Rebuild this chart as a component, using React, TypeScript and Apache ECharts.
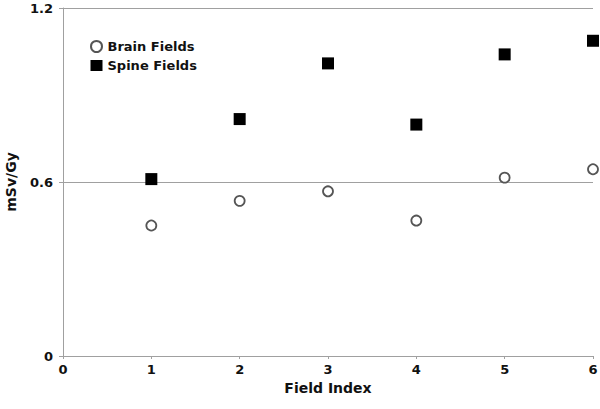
import React, { useEffect, useRef } from "react";
import * as echarts from "echarts";

const fieldIndex = [1, 2, 3, 4, 5, 6];
const brainFields = [0.45, 0.535, 0.568, 0.467, 0.615, 0.644];
const spineFields = [0.61, 0.817, 1.009, 0.798, 1.04, 1.087];

const FONT = "DejaVu Sans";

export default function App() {
  const ref = useRef<HTMLDivElement>(null);
  useEffect(() => {
    if (!ref.current) return;
    const chart = echarts.init(ref.current, undefined, { renderer: "svg" });
    chart.setOption({
      animation: false,
      backgroundColor: "#ffffff",
      textStyle: { fontFamily: FONT },
      grid: { left: 63, right: 7, top: 8, bottom: 53, containLabel: false, outerBoundsMode: "none" },
      legend: {
        orient: "vertical",
        left: 85,
        top: 35,
        itemWidth: 12,
        itemHeight: 11,
        itemGap: 6,
        textStyle: { fontFamily: FONT, fontWeight: "bold", fontSize: 13, color: "#111" },
        data: [
          { name: "Brain Fields", icon: "circle" },
          { name: "Spine Fields", icon: "rect" },
        ],
      },
      xAxis: {
        type: "value",
        min: 0,
        max: 6,
        interval: 1,
        name: "Field Index",
        nameLocation: "middle",
        nameGap: 18,
        nameTextStyle: { fontFamily: FONT, fontWeight: "bold", fontSize: 14, color: "#111" },
        axisLine: { lineStyle: { color: "#a0a0a0", width: 1 } },
        axisTick: { show: true, inside: false, length: 3, lineStyle: { color: "#a0a0a0" } },
        axisLabel: { fontFamily: FONT, fontWeight: "bold", fontSize: 13, color: "#111", margin: 7 },
        splitLine: { show: false },
      },
      yAxis: {
        type: "value",
        min: 0,
        max: 1.2,
        interval: 0.6,
        name: "mSv/Gy",
        nameLocation: "middle",
        nameGap: 45,
        nameTextStyle: { fontFamily: FONT, fontWeight: "bold", fontSize: 14, color: "#111" },
        axisLine: { show: true, lineStyle: { color: "#a0a0a0", width: 1 } },
        axisTick: { show: true, inside: false, length: 4, lineStyle: { color: "#a0a0a0" } },
        axisLabel: {
          fontFamily: FONT,
          fontWeight: "bold",
          fontSize: 13,
          color: "#111",
          margin: 10,
          formatter: (v: number) => (v === 0 ? "0" : v.toFixed(1)),
        },
        splitLine: { show: true, lineStyle: { color: "#a0a0a0", width: 1 } },
      },
      series: [
        {
          name: "Brain Fields",
          type: "scatter",
          symbol: "circle",
          symbolSize: 10,
          itemStyle: { color: "#ffffff", borderColor: "#555555", borderWidth: 1.8, opacity: 1 },
          data: fieldIndex.map((x, i) => [x, brainFields[i]]),
        },
        {
          name: "Spine Fields",
          type: "scatter",
          symbol: "rect",
          symbolSize: 12,
          itemStyle: { color: "#000000", opacity: 1 },
          data: fieldIndex.map((x, i) => [x, spineFields[i]]),
        },
      ],
    });
    return () => chart.dispose();
  }, []);
  return (
    <div
      ref={ref}
      style={{ position: "fixed", left: 0, top: 0, width: 600, height: 409 }}
    />
  );
}
